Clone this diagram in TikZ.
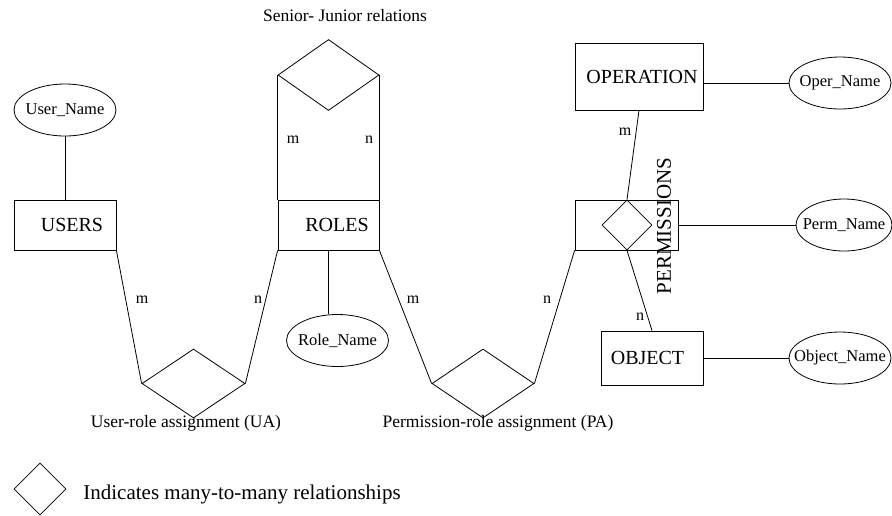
\documentclass[tikz,border=0pt]{standalone}
\usepackage{fontspec}
\setmainfont{Liberation Serif}
\usetikzlibrary{shapes.geometric}
\begin{document}
\begin{tikzpicture}[x=1pt,y=-1pt,line width=0.8pt,
  entity/.style={draw,rectangle,inner sep=0pt,font=\fontsize{20}{22}\selectfont},
  attr/.style={draw,ellipse,inner xsep=-14pt,inner ysep=0pt,minimum width=102pt,minimum height=52pt,font=\fontsize{16.5}{18}\selectfont},
  rel/.style={draw,diamond,inner sep=0pt},
  card/.style={inner sep=0pt,font=\fontsize{16}{18}\selectfont},
  caption/.style={inner sep=0pt,font=\fontsize{17.5}{19}\selectfont}]
\useasboundingbox (0,0) rectangle (892,515);
% entities
\node[entity,minimum width=102pt,minimum height=50pt] (users) at (65,225) {\hspace*{14pt}USERS};
\node[entity,minimum width=101pt,minimum height=50pt] (roles) at (328.5,225) {\hspace*{17pt}ROLES};
\node[entity,minimum width=128pt,minimum height=67pt] (op) at (639,76.5) {\hspace*{6pt}OPERATION};
\node[entity,minimum width=103pt,minimum height=50pt] (perm) at (626.5,225) {};
\node[entity,minimum width=102pt,minimum height=54pt] (obj) at (652,358) {OBJECT\hspace*{9pt}};
% attributes
\node[attr] (username) at (65,110) {User\_Name};
\node[attr] (rolename) at (337.5,340.5) {Role\_Name};
\node[attr] (opname) at (840,83) {Oper\_Name};
\node[attr,minimum width=96pt] (permname) at (844,225) {Perm\_Name};
\node[attr] (objname) at (840,358) {Object\_Name};
% relationships
\node[rel,minimum width=101pt,minimum height=71pt] (sj) at (328.5,75) {};
\node[rel,minimum width=103pt,minimum height=69pt] (ua) at (193.5,383.5) {};
\node[rel,minimum width=102pt,minimum height=69pt] (pa) at (483,383.5) {};
\node[rel,minimum width=50pt,minimum height=50pt] (pd) at (627,225) {};
\node[rel,minimum width=52pt,minimum height=52pt] (legend) at (40,489) {};
% texts
\node[caption] (sjtext) at (345,16) {Senior- Junior relations};
\node[caption] (uatext) at (186,423) {User-role assignment (UA)};
\node[caption] (patext) at (498,423) {Permission-role assignment (PA)};
\node[inner sep=0pt,anchor=west,font=\fontsize{21}{23}\selectfont] (legtext) at (83,494) {Indicates many-to-many relationships};
\node[inner sep=0pt,rotate=90,font=\fontsize{21}{23}\selectfont] (permtext) at (664,226) {PERMISSIONS};
% connectors
\draw (username) -- (users);
\draw (sj.west) -- (roles.north west);
\draw (sj.east) -- (roles.north east);
\draw (users.south east) -- (ua.west);
\draw (ua.east) -- (roles.south west);
\draw (roles.south) -- (roles.south |- rolename.north);
\draw (roles.south east) -- (pa.west);
\draw (pa.east) -- (perm.south west);
\draw (op.south) -- (pd.north);
\draw (pd.south) -- (obj.north);
\draw (opname.west -| op.east) -- (opname.west);
\draw (perm.east) -- (permname.west);
\draw (obj.east) -- (objname.west);
% cardinalities
\node[card] (c1) at (293,140) {m};
\node[card] (c2) at (369,140) {n};
\node[card] (c3) at (142,300) {m};
\node[card] (c4) at (258,300) {n};
\node[card] (c5) at (413,300) {m};
\node[card] (c6) at (547,300) {n};
\node[card] (c7) at (625,132) {m};
\node[card] (c8) at (640,317) {n};
\end{tikzpicture}
\end{document}
